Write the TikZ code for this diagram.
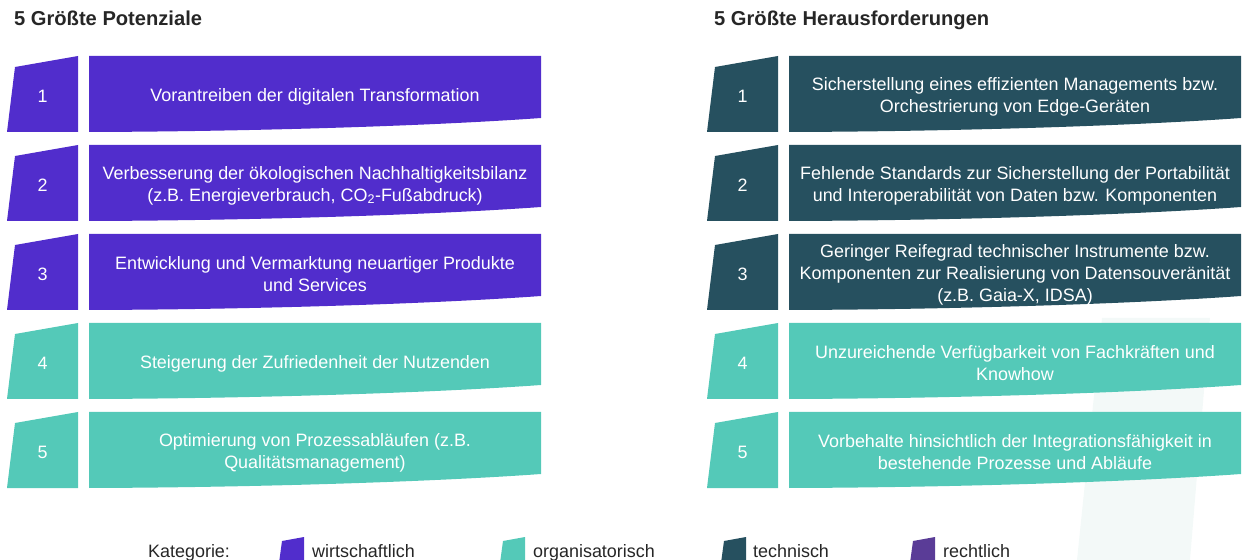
\documentclass[tikz,border=0pt]{standalone}
\usepackage{fontspec}
\setmainfont{Liberation Sans}
\definecolor{cpurple}{HTML}{512DCC}
\definecolor{cteal}{HTML}{54C9B8}
\definecolor{cdark}{HTML}{26505F}
\definecolor{clegal}{HTML}{5A3C97}
\definecolor{ctext}{HTML}{262626}
\definecolor{cwater}{HTML}{F3F9F8}
\tikzset{
  boxtxt/.style={text=white, align=center, inner sep=0pt, font=\fontsize{18}{22}\selectfont},
  numtxt/.style={text=white, inner sep=0pt, font=\fontsize{18}{22}\selectfont},
  headtxt/.style={text=ctext, anchor=base west, inner sep=0pt, font=\fontsize{20.2}{24}\selectfont\bfseries},
  legtxt/.style={text=ctext, anchor=base west, inner sep=0pt, font=\fontsize{18}{22}\selectfont},
}
% #1 name, #2 x offset, #3 top y, #4 colour, #5 number, #6 text
\newcommand\rowitem[6]{%
  \fill[#4] (#2+7,#3+76) -- (#2+78,#3+76) -- (#2+78,#3) -- (#2+15,#3+11) -- cycle;
  \fill[#4] (#2+89,#3) -- (#2+541,#3) -- (#2+541,#3+62)
     .. controls (#2+430,#3+70) and (#2+250,#3+75.5) .. (#2+89,#3+76) -- cycle;
  \node[numtxt] (#1n) at (#2+42.5,#3+40) {#5};
  \node[boxtxt] (#1t) at (#2+315,#3+40.5) {#6};
}
\newcommand\legitem[5]{% #1 name, #2 x, #3 colour, #4 text, #5 text x
  \fill[#3] (#2,563) -- (#2+25,563) -- (#2+25,537) -- (#2+3,541) -- cycle;
  \node[legtxt] (#1) at (#5,557) {#4};
}
\begin{document}
\begin{tikzpicture}[x=1bp,y=-1bp]
\useasboundingbox (0,0) rectangle (1242,560);
% faint watermark
\fill[cwater] (1102,318) -- (1210,318) -- (1190,560) -- (1077,560) -- cycle;
% headings
\node[headtxt] (hl) at (14,26) {5 Größte Potenziale};
\node[headtxt] (hr) at (714,26) {5 Größte Herausforderungen};
% left column
\rowitem{l1}{0}{56}{cpurple}{1}{Vorantreiben der digitalen Transformation}
\rowitem{l2}{0}{145}{cpurple}{2}{Verbesserung der ökologischen Nachhaltigkeitsbilanz\\(z.B. Energieverbrauch, CO\textsubscript{2}-Fußabdruck)}
\rowitem{l3}{0}{234}{cpurple}{3}{Entwicklung und Vermarktung neuartiger Produkte\\und Services}
\rowitem{l4}{0}{323}{cteal}{4}{Steigerung der Zufriedenheit der Nutzenden}
\rowitem{l5}{0}{412}{cteal}{5}{Optimierung von Prozessabläufen (z.B.\\Qualitätsmanagement)}
% right column
\rowitem{r1}{700}{56}{cdark}{1}{Sicherstellung eines effizienten Managements bzw.\\Orchestrierung von Edge-Geräten}
\rowitem{r2}{700}{145}{cdark}{2}{Fehlende Standards zur Sicherstellung der Portabilität\\und Interoperabilität von Daten bzw. Komponenten}
\rowitem{r3}{700}{234}{cdark}{3}{Geringer Reifegrad technischer Instrumente bzw.\\Komponenten zur Realisierung von Datensouveränität\\(z.B. Gaia-X, IDSA)}
\rowitem{r4}{700}{323}{cteal}{4}{Unzureichende Verfügbarkeit von Fachkräften und\\Knowhow}
\rowitem{r5}{700}{412}{cteal}{5}{Vorbehalte hinsichtlich der Integrationsfähigkeit in\\bestehende Prozesse und Abläufe}
% legend
\node[legtxt] (kat) at (148,557) {Kategorie:};
\legitem{lw}{279}{cpurple}{wirtschaftlich}{312}
\legitem{lo}{500}{cteal}{organisatorisch}{533}
\legitem{lt}{721}{cdark}{technisch}{753}
\legitem{lr}{910}{clegal}{rechtlich}{943}
\end{tikzpicture}
\end{document}
